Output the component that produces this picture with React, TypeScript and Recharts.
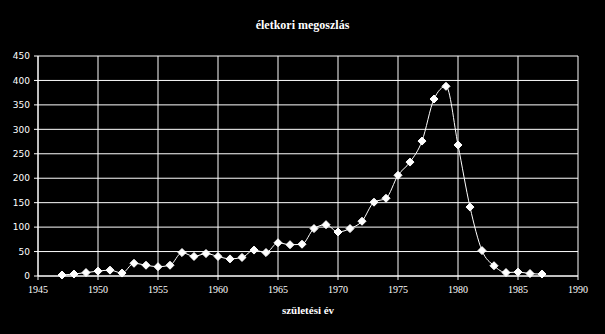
import { LineChart, Line, XAxis, YAxis, CartesianGrid } from "recharts";

const years = [
  1947, 1948, 1949, 1950, 1951, 1952, 1953, 1954, 1955, 1956,
  1957, 1958, 1959, 1960, 1961, 1962, 1963, 1964, 1965, 1966,
  1967, 1968, 1969, 1970, 1971, 1972, 1973, 1974, 1975, 1976,
  1977, 1978, 1979, 1980, 1981, 1982, 1983, 1984, 1985, 1986, 1987,
];

const counts = [
  2, 4, 7, 10, 12, 6, 26, 22, 19, 22,
  48, 40, 46, 40, 35, 38, 53, 48, 68, 64,
  65, 97, 105, 90, 97, 112, 151, 159, 206, 233,
  276, 362, 388, 268, 141, 52, 21, 7, 8, 5, 4,
];

const xTicks = [1945, 1950, 1955, 1960, 1965, 1970, 1975, 1980, 1985, 1990];
const yTicks = [0, 50, 100, 150, 200, 250, 300, 350, 400, 450];

const data = years.map((y, i) => ({ year: y, count: counts[i] }));

const Diamond = (props: any) => {
  const { cx, cy } = props;
  if (cx == null || cy == null) return null;
  const r = 4;
  return (
    <polygon
      points={`${cx},${cy - r} ${cx + r},${cy} ${cx},${cy + r} ${cx - r},${cy}`}
      fill="#fff"
      stroke="#fff"
    />
  );
};

export default function App() {
  return (
    <div
      style={{
        position: "absolute",
        left: 0,
        top: 0,
        width: 605,
        height: 334,
        background: "#000",
      }}
    >
      <div
        style={{
          position: "absolute",
          top: 18,
          width: 605,
          textAlign: "center",
          color: "#fff",
          fontFamily: "Liberation Serif",
          fontWeight: "bold",
          fontSize: 12,
        }}
      >
        életkori megoszlás
      </div>
      <LineChart
        width={605}
        height={334}
        data={data}
        margin={{ top: 56, right: 27, bottom: 0, left: 0 }}
      >
        <CartesianGrid stroke="#fff" strokeWidth={1} />
        <XAxis
          dataKey="year"
          type="number"
          domain={[1945, 1990]}
          ticks={xTicks}
          stroke="#fff"
          tickSize={4}
          tickMargin={6}
          tick={{ fill: "#fff", fontFamily: "Liberation Serif", fontSize: 10 }}
          height={58}
          label={{
            value: "születési év",
            position: "insideBottom",
            offset: 20,
            fill: "#fff",
            fontFamily: "Liberation Serif",
            fontWeight: "bold",
            fontSize: 11,
          }}
        />
        <YAxis
          domain={[0, 450]}
          ticks={yTicks}
          width={38}
          stroke="#fff"
          tickSize={4}
          tickMargin={4}
          tick={{ fill: "#fff", fontFamily: "DejaVu Sans", fontSize: 9 }}
        />
        <Line
          type="monotone"
          dataKey="count"
          stroke="#fff"
          strokeWidth={1}
          dot={<Diamond />}
          isAnimationActive={false}
        />
      </LineChart>
    </div>
  );
}
